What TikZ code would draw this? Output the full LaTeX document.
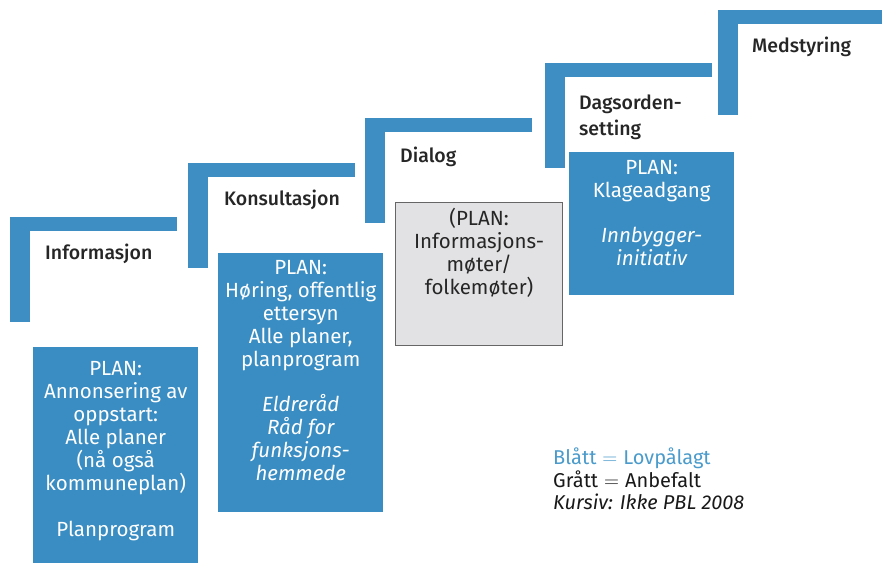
\documentclass[tikz,border=0pt]{standalone}
\usepackage{fontspec}
\setmainfont{Fira Sans}
\newfontfamily\stagefont{Fira Sans Medium}
\usetikzlibrary{positioning}
\definecolor{stepblue}{HTML}{3E8EC4}
\definecolor{boxblue}{HTML}{3A8DC2}
\definecolor{boxgrey}{HTML}{E2E2E4}
\definecolor{keyblue}{HTML}{4A9BCB}

\begin{document}
\begin{tikzpicture}[x=1pt, y=-1pt,
    stage/.style={font=\fontsize{19.5}{26}\stagefont, text=black!85,
                  align=left, inner sep=2pt, anchor=west},
    planbox/.style={anchor=north west, draw=none, fill=boxblue,
                    minimum width=165pt, inner sep=0pt},
    plantext/.style={anchor=north, align=center, text=white, inner sep=0pt,
                     font=\fontsize{20.5}{23}\selectfont},
  ]
  \useasboundingbox (0,0) rectangle (882,563);
  \clip (0,0) rectangle (882,563);

  % stairs
  \foreach \x/\y in {10/217, 188/163, 365/118, 545/63, 718/10} {
    \fill[stepblue] (\x,\y) rectangle ++(167,14);
    \fill[stepblue] (\x,\y) rectangle ++(20,105);
  }

  \node[stage] (info) at (43,254)  {Informasjon};
  \node[stage] (kons) at (222,200) {Konsultasjon};
  \node[stage] (dial) at (398,157) {Dialog};
  \node[stage] (dags) at (577,117) {Dagsorden-\\setting};
  \node[stage] (meds) at (750,47)  {Medstyring};

  % plan boxes
  \node[planbox, minimum height=216pt] (box1) at (33,347) {};
  \node[planbox, minimum height=259pt] (box2) at (218,253) {};
  \node[planbox, minimum height=143pt, minimum width=167pt,
        fill=boxgrey, draw=black!60, line width=1.2pt] (box3) at (395,202) {};
  \node[planbox, minimum height=143pt] (box4) at (569,152) {};

  \node[plantext, below=14pt of box1.north] (txt1)
    {PLAN:\\Annonsering av\\oppstart:\\Alle planer\\(nå også\\kommuneplan)\\[23pt]
     Planprogram};
  \node[plantext, below=7pt of box2.north] (txt2)
    {PLAN:\\Høring, offentlig\\ettersyn\\Alle planer,\\planprogram\\[22pt]
     \itshape Eldreråd\\\itshape Råd for\\\itshape funksjons-\\\itshape hemmede};
  \node[plantext, below=6pt of box3.north, text=black!85] (txt3)
    {(PLAN:\\Informasjons-\\møter/\\folkemøter)};
  \node[plantext, below=8pt of box4.north] (txt4)
    {PLAN:\\Klageadgang\\[22pt]\itshape Innbygger-\\\itshape initiativ};

  % key
  \node[anchor=north west, align=left, inner sep=0pt, text=black!90,
        font=\fontsize{20}{22.5}\selectfont] (key) at (553,448)
    {\textcolor{keyblue}{Blått\hspace{6pt}$=$\hspace{6pt}Lovpålagt}\\
     Grått\hspace{6pt}$=$\hspace{6pt}Anbefalt\\
     \itshape Kursiv: Ikke PBL 2008};
\end{tikzpicture}
\end{document}
